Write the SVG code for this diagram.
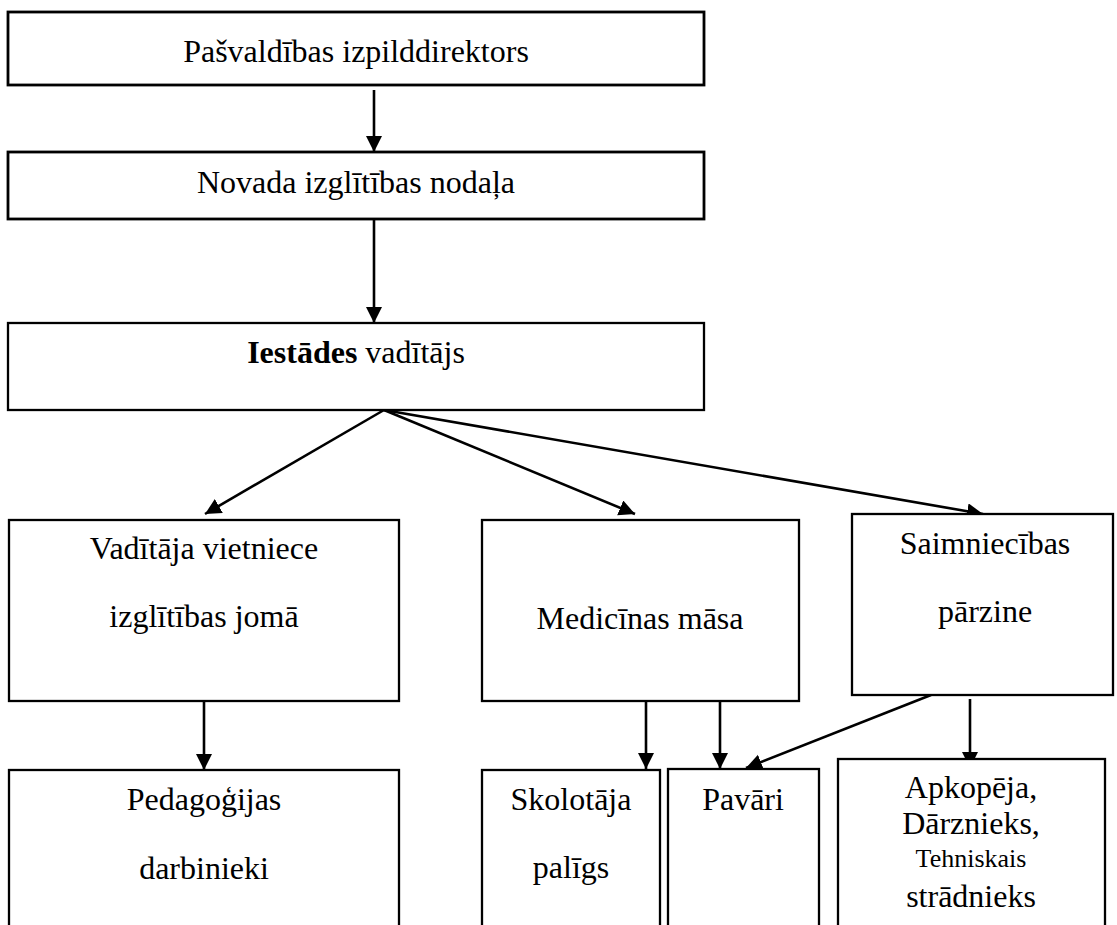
<svg xmlns="http://www.w3.org/2000/svg" width="1117" height="925" viewBox="0 0 1117 925">
  <defs>
    <style>
      .box { fill: #ffffff; stroke: #000000; stroke-width: 2.3; }
      .box-heavy { fill: #ffffff; stroke: #000000; stroke-width: 2.8; }
      .lbl { font-family: "Liberation Serif", "Times New Roman", serif; font-size: 32px; fill: #000000; text-anchor: middle; }
      .small { font-size: 26px; }
      .bold { font-weight: bold; }
      .conn { stroke: #000000; stroke-width: 2.6; fill: none; marker-end: url(#arrow); }
    </style>
    <marker id="arrow" markerUnits="userSpaceOnUse" markerWidth="18" markerHeight="18" refX="16" refY="8" orient="auto">
      <path d="M0,0 L16,8 L0,16 Z" fill="#000000"/>
    </marker>
  </defs>

  <rect width="1117" height="925" fill="#ffffff"/>

  <!-- connectors -->
  <g id="connectors">
    <line class="conn" x1="374" y1="90" x2="374" y2="152"/>
    <line class="conn" x1="374" y1="219" x2="374" y2="323"/>
    <line class="conn" x1="384" y1="410" x2="205" y2="514"/>
    <line class="conn" x1="384" y1="410" x2="635" y2="514"/>
    <line class="conn" x1="384" y1="410" x2="983" y2="514"/>
    <line class="conn" x1="204" y1="700" x2="204" y2="770"/>
    <line class="conn" x1="646" y1="701" x2="646" y2="769"/>
    <line class="conn" x1="720" y1="701" x2="720" y2="769"/>
    <line class="conn" x1="931" y1="695" x2="746" y2="768"/>
    <line class="conn" x1="970" y1="699" x2="970" y2="768"/>
  </g>

  <!-- top level -->
  <g id="node-izpilddirektors">
    <rect class="box-heavy" x="8" y="12" width="696" height="73"/>
    <text class="lbl" x="356" y="62">Pašvaldības izpilddirektors</text>
  </g>

  <g id="node-izglitibas-nodala">
    <rect class="box-heavy" x="8" y="152" width="696" height="67"/>
    <text class="lbl" x="356" y="193">Novada izglītības nodaļa</text>
  </g>

  <g id="node-vaditajs">
    <rect class="box" x="8" y="323" width="696" height="87"/>
    <text class="lbl" x="356" y="363"><tspan class="bold">Iestādes</tspan> vadītājs</text>
  </g>

  <!-- second level -->
  <g id="node-vietniece">
    <rect class="box" x="9" y="520" width="390" height="181"/>
    <text class="lbl" x="204" y="559">Vadītāja vietniece</text>
    <text class="lbl" x="204" y="627">izglītības jomā</text>
  </g>

  <g id="node-medicinas-masa">
    <rect class="box" x="482" y="520" width="317" height="181"/>
    <text class="lbl" x="640" y="629">Medicīnas māsa</text>
  </g>

  <g id="node-saimniecibas">
    <rect class="box" x="852" y="514" width="261" height="181"/>
    <text class="lbl" x="985" y="554">Saimniecības</text>
    <text class="lbl" x="985" y="622">pārzine</text>
  </g>

  <!-- third level -->
  <g id="node-pedagogijas">
    <rect class="box" x="9" y="770" width="390" height="180"/>
    <text class="lbl" x="204" y="810">Pedagoģijas</text>
    <text class="lbl" x="204" y="879">darbinieki</text>
  </g>

  <g id="node-skolotaja-paligs">
    <rect class="box" x="482" y="770" width="178" height="180"/>
    <text class="lbl" x="571" y="810">Skolotāja</text>
    <text class="lbl" x="571" y="878">palīgs</text>
  </g>

  <g id="node-pavari">
    <rect class="box" x="668" y="769" width="151" height="180"/>
    <text class="lbl" x="743" y="810">Pavāri</text>
  </g>

  <g id="node-apkopeja">
    <rect class="box" x="838" y="759" width="267" height="190"/>
    <text class="lbl" x="971" y="798">Apkopēja,</text>
    <text class="lbl" x="971" y="834">Dārznieks,</text>
    <text class="lbl small" x="971" y="867">Tehniskais</text>
    <text class="lbl" x="971" y="907">strādnieks</text>
  </g>
</svg>
